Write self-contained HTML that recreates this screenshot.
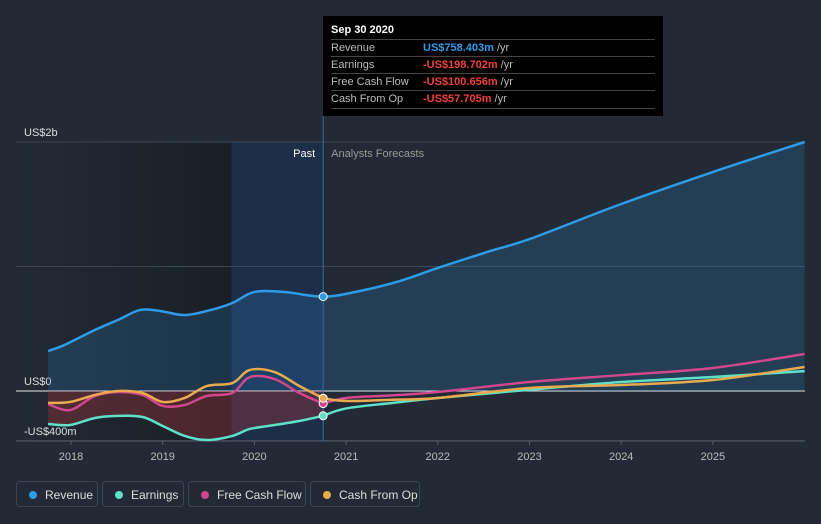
<!DOCTYPE html>
<html><head><meta charset="utf-8"><style>
body{margin:0;background:#232a35;font-family:"Liberation Sans",sans-serif;}
#wrap{position:relative;width:821px;height:524px;overflow:hidden;background:#232a35;}
svg{position:absolute;left:0;top:0}
.tt{position:absolute;left:323px;top:16px;width:340px;height:100px;background:#000;color:#bbb;font-size:11px}
.tt .row{position:absolute;left:8px;width:324px;border-top:1px solid #444;height:17px;line-height:17px}
.lg{position:absolute;top:481px;height:26px;border:1px solid #3c4553;border-radius:4px;color:#ddd;font-size:12px;line-height:26px;box-sizing:border-box;padding-left:28px}
.lg i{position:absolute;left:12px;top:9px;width:8px;height:8px;border-radius:50%}
</style></head><body>
<div id="wrap">
<svg id="chart" width="821" height="524"></svg>
<div class="tt">
 <div style="position:absolute;left:8px;top:8px;color:#fff;font-weight:bold">Sep 30 2020</div>
 <div class="row" style="top:23px">Revenue<span style="position:absolute;left:92px;color:#2d9be8;font-weight:bold">US$758.403m <span style="color:#bbb;font-weight:normal">/yr</span></span></div>
 <div class="row" style="top:40px">Earnings<span style="position:absolute;left:92px;color:#f0413f;font-weight:bold">-US$198.702m <span style="color:#bbb;font-weight:normal">/yr</span></span></div>
 <div class="row" style="top:57px">Free Cash Flow<span style="position:absolute;left:92px;color:#f0413f;font-weight:bold">-US$100.656m <span style="color:#bbb;font-weight:normal">/yr</span></span></div>
 <div class="row" style="top:74px;border-bottom:1px solid #444">Cash From Op<span style="position:absolute;left:92px;color:#f0413f;font-weight:bold">-US$57.705m <span style="color:#bbb;font-weight:normal">/yr</span></span></div>
</div>
<div class="lg" style="left:16px;width:82px"><i style="background:#2d9be8"></i>Revenue</div>
<div class="lg" style="left:102px;width:82px"><i style="background:#5fe0c8"></i>Earnings</div>
<div class="lg" style="left:188px;width:118px"><i style="background:#d0478d"></i>Free Cash Flow</div>
<div class="lg" style="left:310px;width:110px"><i style="background:#e8a94f"></i>Cash From Op</div>
</div>
<script>
const revYears=[2017.75,2017.93,2018.26,2018.51,2018.75,2018.97,2019.24,2019.52,2019.76,2020.0,2020.33,2020.75,2021.15,2021.59,2022.0,2022.57,2023.0,2024.0,2025.0,2026.0];
const revenue=[321,370,490,570,650,643,610,650,707,795,795,758,803,884,988,1124,1220,1502,1759,2000];
const pastYears=[2017.75,2017.99,2018.26,2018.51,2018.78,2019.0,2019.24,2019.48,2019.76,2019.95,2020.22,2020.49,2020.75];
const earningsPast=[-265,-273,-217,-200,-209,-281,-361,-394,-361,-305,-273,-241,-199];
const fcfPast=[-105,-153,-40,-8,-32,-120,-112,-40,-16,112,96,-16,-101];
const cfoPast=[-96,-88,-32,0,-16,-88,-56,40,64,169,152,40,-58];
const fcYears=[2020.75,2021.0,2021.5,2022.0,2023.0,2024.0,2025.0,2026.0];
const earningsFc=[-199,-140,-96,-56,10,72,112,160];
const fcfFc=[-101,-56,-35,-8,72,128,185,297];
const cfoFc=[-58,-80,-70,-56,24,48,88,193];
const yTicks=[2000,1000,0,-400];
const yLabels={2000:"US$2b",0:"US$0","-400":"-US$400m"};
const xTicks=[2018,2019,2020,2021,2022,2023,2024,2025];
const X=y=>71+(y-2018)*91.7, Y=v=>391-v*0.1245;
const svg=document.getElementById('chart');const NS='http://www.w3.org/2000/svg';
function el(t,a,p){const e=document.createElementNS(NS,t);for(const k in a)e.setAttribute(k,a[k]);(p||svg).appendChild(e);return e;}
function pts(xs,vs){return xs.map((x,i)=>[X(x),Y(vs[i])]);}
function path(p){let d='M'+p[0][0]+','+p[0][1];for(let i=0;i<p.length-1;i++){const a=p[i-1]||p[i],b=p[i],c=p[i+1],e=p[i+2]||c;d+=` C${b[0]+(c[0]-a[0])/6},${b[1]+(c[1]-a[1])/6} ${c[0]-(e[0]-b[0])/6},${c[1]-(e[1]-b[1])/6} ${c[0]},${c[1]}`;}return d;}
const defs=el('defs',{});
const g1=el('linearGradient',{id:'past',x1:0,x2:1,y1:0,y2:0},defs);
el('stop',{offset:0,'stop-color':'#232a35'},g1);el('stop',{offset:1,'stop-color':'#1a1f26'},g1);
const pastBg=el('rect',{x:16,y:142,width:X(2019.75)-16,height:299,fill:'url(#past)'});

const hl=el('rect',{x:X(2019.75),y:142,width:X(2020.75)-X(2019.75),height:299,fill:'#1c2e48'});

yTicks.forEach(v=>{const l=el('line',{x1:16,x2:805,y1:Y(v),y2:Y(v),stroke:v==0?'#e8e8e8':'#3d4653','stroke-width':1});

if(yLabels[v]){const t=el('text',{x:24,y:Y(v)-6,fill:'#ddd','font-size':11});t.textContent=yLabels[v];}});
el('line',{x1:16,x2:805,y1:441,y2:441,stroke:'#555e6b'});
xTicks.forEach(y=>{el('line',{x1:X(y),x2:X(y),y1:441,y2:445,stroke:'#555e6b'});const t=el('text',{x:X(y),y:460,fill:'#bbb','font-size':11,'text-anchor':'middle'});t.textContent=y;});
const rp=pts(revYears,revenue);const rd=path(rp);
const ra=el('path',{d:rd+` L${X(2026)},${Y(0)} L${X(2017.75)},${Y(0)} Z`,fill:'#2d9be8','fill-opacity':0.18});

const ep=pts(pastYears,earningsPast);
const ea=el('path',{d:path(ep)+` L${X(2020.75)},${Y(0)} L${X(2017.75)},${Y(0)} Z`,fill:'#c0353a','fill-opacity':0.3});

el('line',{x1:X(2020.75),x2:X(2020.75),y1:116,y2:441,stroke:'#2d6fb0','stroke-width':1});
const series=[['revenue',rp,null,'#2d9be8'],['earnings',ep,pts(fcYears,earningsFc),'#5fe0c8'],['free-cash-flow',pts(pastYears,fcfPast),pts(fcYears,fcfFc),'#d0478d'],['cash-from-op',pts(pastYears,cfoPast),pts(fcYears,cfoFc),'#e8a94f']];
series.forEach(([n,a,b,c])=>{const l=el('path',{d:path(a),fill:'none',stroke:c,'stroke-width':2.5});
if(b){const f=el('path',{d:path(b),fill:'none',stroke:c,'stroke-width':2.5});}});
[[revenue[11],'#2d9be8'],[earningsPast[12],'#5fe0c8'],[fcfPast[12],'#d0478d'],[cfoPast[12],'#e8a94f']].forEach(([v,c])=>{const d=el('circle',{cx:X(2020.75),cy:Y(v),r:4,fill:c,stroke:'#fff','stroke-width':1});});
const t1=el('text',{x:X(2020.75)-8,y:157,fill:'#fff','font-size':11,'text-anchor':'end'});t1.textContent='Past';
const t2=el('text',{x:X(2020.75)+8,y:157,fill:'#999','font-size':11});t2.textContent='Analysts Forecasts';
</script></body></html>
